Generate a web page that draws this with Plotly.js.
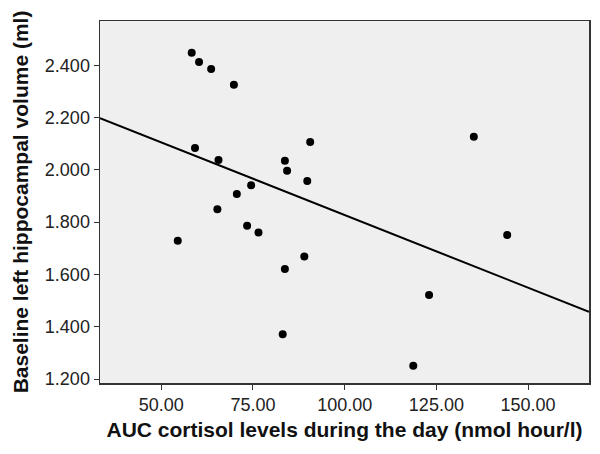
<!DOCTYPE html>
<html><head><meta charset="utf-8">
<script src="https://cdn.plot.ly/plotly-3.0.1.min.js"></script>
<style>html,body{margin:0;padding:0;background:#fff}#chart{width:600px;height:454px}</style>
</head><body><div id="chart"></div>
<script>
// AUC cortisol levels (nmol hour/l)
const cortisolAUC = [58.3, 60.3, 59.2, 63.6, 69.8, 90.6, 65.6, 83.7, 84.3, 89.8, 74.5, 70.6, 135.2, 54.5, 65.3, 73.4, 76.5, 89.0, 83.7, 83.1, 144.3, 123.0, 118.7];
// Baseline left hippocampal volume (ml)
const hippoVolume = [2.448, 2.413, 2.084, 2.386, 2.326, 2.107, 2.038, 2.035, 1.997, 1.957, 1.941, 1.908, 2.127, 1.729, 1.849, 1.786, 1.760, 1.669, 1.621, 1.371, 1.751, 1.521, 1.251];
// fitted regression line endpoints
const fitX = [33.3, 166.6];
const fitY = [2.198, 1.457];
const xTicks = [50, 75, 100, 125, 150];
const xTickText = ["50.00", "75.00", "100.00", "125.00", "150.00"];
const yTicks = [1.2, 1.4, 1.6, 1.8, 2.0, 2.2, 2.4];
const yTickText = ["1.200", "1.400", "1.600", "1.800", "2.000", "2.200", "2.400"];

const font = "Liberation Sans, Arial, Helvetica, sans-serif";
const data = [
  {x: fitX, y: fitY, type: "scatter", mode: "lines", line: {color: "#000", width: 2}, hoverinfo: "skip"},
  {x: cortisolAUC, y: hippoVolume, type: "scatter", mode: "markers", marker: {color: "#000", size: 8}}
];
const layout = {
  width: 600, height: 454,
  margin: {l: 100, r: 11, t: 21, b: 71},
  paper_bgcolor: "#fff", plot_bgcolor: "#efefef",
  showlegend: false,
  font: {family: font, color: "#222", size: 18},
  xaxis: {
    range: [33.3, 166.6], tickmode: "array", tickvals: xTicks, ticktext: xTickText,
    showgrid: false, zeroline: false, showline: true, mirror: true, linecolor: "#333", linewidth: 1.5,
    ticks: "outside", ticklen: 5, tickcolor: "#333", tickfont: {size: 18, color: "#222"},
    title: {text: "AUC cortisol levels during the day (nmol hour/l)", font: {size: 21, color: "#111", family: font, weight: "bold"}, standoff: 8}
  },
  yaxis: {
    range: [1.1847, 2.5695], tickmode: "array", tickvals: yTicks, ticktext: yTickText,
    showgrid: false, zeroline: false, showline: true, mirror: true, linecolor: "#333", linewidth: 1.5,
    ticks: "outside", ticklen: 5, tickcolor: "#333", tickfont: {size: 18, color: "#222"},
    title: {text: "Baseline left hippocampal volume (ml)", font: {size: 21, color: "#111", family: font, weight: "bold"}, standoff: 10}
  }
};
Plotly.newPlot("chart", data, layout, {displayModeBar: false, staticPlot: true});
</script></body></html>
